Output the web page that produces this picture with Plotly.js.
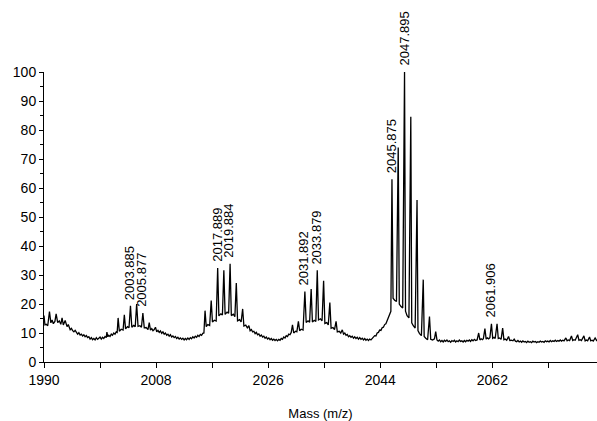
<!DOCTYPE html>
<html>
<head>
<meta charset="utf-8">
<script src="https://cdn.plot.ly/plotly-3.0.1.min.js"></script>
<style>html,body{margin:0;padding:0;background:#fff;}#chart{width:597px;height:421px;}</style>
</head>
<body>
<div id="chart"></div>
<script>
// Mass (m/z) values of the spectrum trace
const mass = [
 1990.0,1990.15,1990.35,1990.6,1990.88,1991.1,1991.3,1991.5,1991.75,1991.95,
 1992.2,1992.45,1992.7,1992.9,1993.1,1993.4,1993.7,1993.9,
 1994.2,1994.4,1994.6,1994.8,1995.0,1995.2,1995.4,1995.6,1995.8,1996.0,
 1996.2,1996.4,1996.6,1996.8,1997.0,1997.2,1997.4,1997.6,1997.8,1998.0,
 1998.2,1998.4,1998.6,1998.8,1999.0,1999.2,1999.4,1999.6,1999.8,2000.0,
 2000.1,2000.25,2000.4,2000.6,2000.8,2001.0,2001.2,2001.4,2001.6,2001.75,
 2001.9,2002.1,2002.4,2002.7,2002.9,2003.1,2003.4,2003.65,2003.885,2004.1,
 2004.4,2004.65,2004.88,2005.1,2005.4,2005.65,2005.877,2006.1,2006.4,2006.7,
 2006.9,
 2007.1,2007.3,2007.5,2007.7,2007.9,2008.1,2008.3,2008.5,2008.7,2008.9,
 2009.1,2009.3,2009.5,2009.7,2009.9,2010.1,2010.3,2010.5,2010.7,2010.9,
 2011.1,2011.3,2011.5,2011.7,2011.9,2012.1,2012.3,2012.5,2012.7,2012.9,
 2013.1,2013.3,2013.5,2013.7,2013.9,2014.1,2014.3,2014.5,2014.7,2014.9,
 2015.1,2015.3,2015.5,2015.68,
 2015.86,2016.05,2016.3,2016.6,2016.85,2017.05,2017.35,2017.65,2017.889,2018.08,
 2018.4,2018.65,2018.88,2019.08,2019.4,2019.65,2019.884,2020.08,2020.4,2020.65,
 2020.88,2021.08,2021.4,2021.65,2021.9,2022.1,2022.4,2022.65,2022.9,
 2023.1,2023.3,2023.5,2023.7,2023.9,2024.1,2024.3,2024.5,2024.7,2024.9,
 2025.1,2025.3,2025.5,2025.7,2025.9,2026.1,2026.3,2026.5,2026.7,2026.9,
 2027.1,2027.3,2027.5,2027.7,2027.9,2028.1,2028.3,2028.5,2028.7,2028.9,
 2029.1,2029.3,2029.5,2029.7,
 2029.9,2030.1,2030.4,2030.6,2030.85,2031.05,2031.3,2031.6,2031.892,2032.1,
 2032.4,2032.65,2032.9,2033.1,2033.4,2033.65,2033.879,2034.08,2034.4,2034.65,
 2034.9,2035.1,2035.4,2035.65,2035.9,2036.1,2036.4,2036.65,2036.9,2037.1,
 2037.4,2037.65,2037.9,
 2038.1,2038.3,2038.5,2038.7,2038.9,2039.1,2039.3,2039.5,2039.7,2039.9,
 2040.1,2040.3,2040.5,2040.7,2040.9,2041.1,2041.3,2041.5,2041.7,2041.9,
 2042.1,2042.3,2042.5,2042.7,2042.9,2043.1,2043.3,2043.5,2043.7,2043.9,
 2044.1,2044.3,2044.5,2044.7,2044.9,2045.1,2045.3,2045.5,2045.7,
 2045.875,2046.05,2046.3,2046.6,2046.88,2047.05,2047.3,2047.6,2047.895,2048.05,
 2048.3,2048.6,2048.9,2049.05,2049.3,2049.6,2049.9,2050.05,2050.3,2050.6,
 2050.9,2051.05,2051.3,2051.6,2051.9,2052.1,2052.4,2052.7,2052.9,
 2053.1,2053.3,2053.5,2053.7,2053.9,2054.1,2054.3,2054.5,2054.7,2054.9,
 2055.1,2055.3,2055.5,2055.7,2055.9,2056.1,2056.3,2056.5,2056.7,2056.9,
 2057.1,2057.3,2057.5,2057.7,2057.9,2058.1,2058.3,2058.5,2058.7,2058.9,
 2059.1,2059.3,2059.55,
 2059.8,2060.0,2060.2,2060.4,2060.55,2060.8,2061.0,2061.2,2061.4,2061.6,
 2061.85,2062.05,2062.25,2062.45,2062.75,2062.95,2063.15,2063.4,2063.65,2063.85,
 2064.05,2064.3,2064.6,2064.8,2065.05,2065.3,2065.5,
 2065.7,2065.9,2066.1,2066.3,2066.5,2066.7,2066.9,2067.1,2067.3,2067.5,
 2067.7,2067.9,2068.1,2068.3,2068.5,2068.7,2068.9,2069.1,2069.3,2069.5,
 2069.7,2069.9,2070.1,2070.3,2070.5,2070.7,2070.9,2071.1,2071.3,2071.5,
 2071.7,2071.9,2072.1,2072.3,2072.5,2072.7,2072.9,2073.1,2073.3,2073.5,
 2073.8,2074.0,2074.2,2074.4,2074.7,2074.9,2075.1,2075.3,2075.7,2075.9,
 2076.1,2076.3,2076.7,2076.9,2077.1,2077.3,2077.6,2077.8,2078.0,2078.2,
 2078.5,2078.8
];
// Relative intensity (%) at each mass
const intensity = [
 16.0,12.8,13.0,12.5,17.4,13.5,14.5,13.2,14.0,16.6,
 13.6,14.2,13.0,15.2,12.8,14.3,12.2,12.9,
 11.1,11.6,10.8,10.4,10.9,10.0,9.6,10.1,9.3,9.6,
 9.0,9.4,8.7,9.1,8.4,8.7,7.9,8.4,7.7,8.1,
 7.6,8.4,7.8,8.2,8.6,7.9,8.5,8.1,8.8,8.4,
 10.3,8.7,9.2,8.8,9.6,9.2,10.0,9.6,10.4,10.2,
 15.2,10.6,11.3,11.0,16.3,11.4,12.2,11.8,19.4,12.0,
 12.6,12.2,20.0,12.3,12.5,12.0,16.9,11.8,11.9,11.2,
 13.6,
 11.0,11.5,10.8,11.2,12.0,10.4,10.9,10.2,10.7,9.9,
 10.4,9.6,10.0,9.2,9.6,8.9,9.4,8.6,9.0,8.4,
 8.8,8.1,8.5,7.9,8.3,7.8,8.2,7.6,8.1,7.7,
 8.3,7.8,8.4,8.0,8.7,8.3,8.9,8.5,9.2,8.8,
 9.5,9.2,9.9,10.0,
 17.7,12.2,12.9,12.6,21.2,13.8,14.4,14.1,32.4,15.9,
 16.6,16.2,31.6,16.4,17.2,16.8,33.9,16.0,16.5,15.6,
 27.2,14.2,14.6,13.8,18.3,12.4,12.7,11.8,12.5,
 10.8,11.2,10.4,10.6,9.8,10.2,9.4,9.7,8.9,9.3,
 8.6,8.9,8.2,8.6,7.9,8.3,7.7,8.1,7.5,7.9,
 7.4,7.8,7.3,7.8,7.5,8.1,7.8,8.6,8.3,9.1,
 8.8,9.6,9.4,10.2,
 12.8,10.0,10.6,10.4,14.0,10.8,11.3,11.0,24.3,13.6,
 14.2,13.7,25.2,13.8,14.4,14.0,31.6,14.5,14.9,14.2,
 28.0,13.3,13.6,12.8,20.5,11.6,11.9,11.2,14.0,10.4,
 10.6,10.0,11.1,
 9.6,10.0,9.2,9.5,8.7,9.1,8.5,8.9,8.2,8.7,
 8.1,8.5,7.9,8.4,7.8,8.2,7.6,8.1,7.5,7.9,
 7.4,7.9,7.6,8.2,8.4,9.1,9.0,10.0,10.2,11.0,
 10.9,11.8,12.0,12.9,13.2,14.3,14.8,16.2,17.5,
 63.0,22.0,21.3,20.9,74.0,20.0,19.2,18.6,100.0,17.5,
 16.0,15.2,84.6,13.5,12.5,11.7,55.9,10.8,9.8,9.1,
 28.4,8.8,8.2,7.7,15.7,7.8,7.6,8.0,10.5,
 7.6,7.2,7.6,7.0,7.4,6.9,7.5,7.1,7.6,7.0,
 7.3,6.8,7.4,7.1,7.5,6.9,7.3,7.0,7.6,7.1,
 7.3,6.9,7.4,7.0,7.5,7.2,7.6,7.1,7.7,7.3,
 7.8,7.4,7.6,
 10.0,7.6,8.0,7.7,8.0,11.5,7.9,8.3,8.0,8.4,
 13.2,8.2,8.5,8.1,13.2,8.1,8.3,7.8,11.7,7.7,
 7.9,7.5,8.8,7.4,7.5,7.3,7.9,
 7.2,7.0,7.4,6.9,7.2,6.8,7.3,6.9,7.1,6.7,
 7.2,6.8,7.0,6.7,7.2,6.9,7.1,6.7,7.0,6.8,
 7.2,6.9,7.1,6.8,7.3,7.0,7.2,6.9,7.4,7.0,
 7.3,7.1,7.5,7.1,7.4,7.2,7.6,7.2,7.5,7.3,
 8.3,7.3,7.6,7.4,9.0,7.4,7.7,7.5,9.4,7.5,
 7.7,7.4,9.0,7.3,7.6,7.3,8.6,7.3,7.5,7.2,
 8.3,7.2
];
// Peak labels (m/z)
const peakLabels = [2003.885, 2005.877, 2017.889, 2019.884, 2031.892, 2033.879, 2045.875, 2047.895, 2061.906];
const xTicks = [1990, 2008, 2026, 2044, 2062];
const yTicks = [0, 10, 20, 30, 40, 50, 60, 70, 80, 90, 100];

const FONT = 'Liberation Sans, Arial, sans-serif';

// height of the tallest point of the trace near a labelled mass
function peakHeight(m) {
  let best = 0;
  for (let i = 0; i < mass.length; i++) {
    if (Math.abs(mass[i] - m) <= 0.3 && intensity[i] > best) best = intensity[i];
  }
  return best;
}

const annotations = peakLabels.map(m => ({
  x: m, y: peakHeight(m), xref: 'x', yref: 'y',
  text: m.toFixed(3), textangle: -90, showarrow: false,
  xanchor: 'center', yanchor: 'bottom', yshift: 4, xshift: -1,
  font: {family: FONT, size: 13, color: '#000'}
}));

const trace = {
  x: mass, y: intensity, type: 'scatter', mode: 'lines',
  line: {color: '#000', width: 1.3}, hoverinfo: 'skip'
};

const layout = {
  width: 597, height: 421,
  margin: {l: 44, r: 0, t: 72, b: 59, pad: 0},
  paper_bgcolor: '#fff', plot_bgcolor: '#fff',
  showlegend: false,
  font: {family: FONT, size: 14, color: '#000'},
  xaxis: {
    range: [1990, 2078.8], tickvals: xTicks, ticktext: xTicks.map(String),
    ticks: 'outside', ticklen: 5, tickwidth: 1, tickcolor: '#000',
    minor: {dtick: 9, tick0: 1990, ticks: 'outside', ticklen: 5, tickwidth: 1, tickcolor: '#000', showgrid: false},
    showline: true, linecolor: '#000', linewidth: 1,
    showgrid: false, zeroline: false,
    tickfont: {family: FONT, size: 14, color: '#000'},
    title: {text: 'Mass (m/z)', font: {family: FONT, size: 13, color: '#000'}, standoff: 22},
    automargin: false
  },
  yaxis: {
    range: [0, 100], tickvals: yTicks, ticktext: yTicks.map(String),
    ticks: 'outside', ticklen: 4, tickwidth: 1, tickcolor: '#000',
    minor: {dtick: 5, tick0: 0, ticks: 'outside', ticklen: 3, tickwidth: 1, tickcolor: '#000', showgrid: false},
    showline: true, linecolor: '#000', linewidth: 1,
    showgrid: false, zeroline: false,
    tickfont: {family: FONT, size: 14, color: '#000'},
    automargin: false
  },
  annotations: annotations
};

Plotly.newPlot('chart', [trace], layout, {displayModeBar: false, staticPlot: true});
</script>
</body>
</html>
